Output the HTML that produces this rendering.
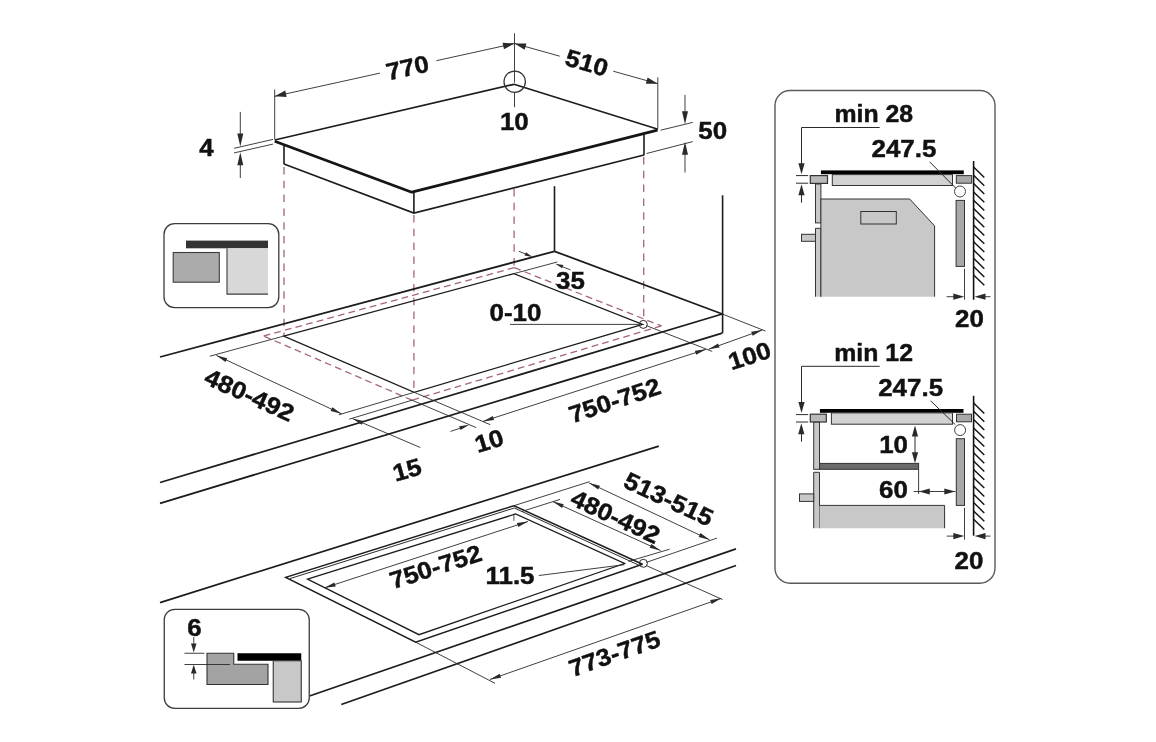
<!DOCTYPE html>
<html><head><meta charset="utf-8"><title>Hob installation</title>
<style>
html,body{margin:0;padding:0;background:#fff;}
body{width:1156px;height:742px;overflow:hidden;}
svg{display:block;will-change:transform;}
text{font-family:"Liberation Sans",sans-serif;font-weight:bold;fill:#111;stroke:#111;stroke-width:0.45px;}
</style></head><body>
<svg width="1156" height="742" viewBox="0 0 1156 742" stroke-linecap="butt">
<rect width="1156" height="742" fill="#fff"/>
<path d="M274.7 140 L514 84.3 L658 129.2" fill="none" stroke="#1c1c1c" stroke-width="1.7" stroke-linejoin="round"/>
<path d="M657.5 130.2 L411.8 192.2 L274.7 141.2" fill="none" stroke="#151515" stroke-width="2.8" stroke-linejoin="bevel"/>
<line x1="284" y1="144" x2="284" y2="164.2" stroke="#1c1c1c" stroke-width="1.6"/>
<line x1="413.9" y1="192.5" x2="413.9" y2="213.1" stroke="#1c1c1c" stroke-width="1.6"/>
<line x1="644" y1="132.5" x2="644" y2="155.2" stroke="#1c1c1c" stroke-width="1.6"/>
<path d="M284 164 L413.9 213.1 L644 155" fill="none" stroke="#1c1c1c" stroke-width="1.6" stroke-linejoin="miter"/>
<line x1="274.7" y1="89.5" x2="274.7" y2="139.5" stroke="#2a2a2a" stroke-width="0.9"/>
<line x1="274.7" y1="96.3" x2="380" y2="73.11" stroke="#2a2a2a" stroke-width="0.9"/>
<line x1="436.4" y1="60.7" x2="514.5" y2="43.5" stroke="#2a2a2a" stroke-width="0.9"/>
<path d="M274.7 96.3 L285.22 90.6 L286.64 97.05 Z" fill="#2a2a2a"/>
<path d="M514.5 43.5 L503.98 49.2 L502.56 42.75 Z" fill="#2a2a2a"/>
<line x1="514.5" y1="33.3" x2="514.5" y2="82.6" stroke="#2a2a2a" stroke-width="0.9"/>
<line x1="514.5" y1="92.4" x2="514.5" y2="107.2" stroke="#2a2a2a" stroke-width="0.9"/>
<circle cx="514.7" cy="81.7" r="10.7" fill="none" stroke="#333" stroke-width="1.25"/>
<line x1="514.5" y1="43.5" x2="559.7" y2="56.18" stroke="#2a2a2a" stroke-width="0.9"/>
<line x1="613.2" y1="71.19" x2="657.8" y2="83.7" stroke="#2a2a2a" stroke-width="0.9"/>
<path d="M514.5 43.5 L526.46 43.43 L524.68 49.78 Z" fill="#2a2a2a"/>
<path d="M657.8 83.7 L645.84 83.77 L647.62 77.42 Z" fill="#2a2a2a"/>
<line x1="657.8" y1="77.3" x2="657.8" y2="128.5" stroke="#2a2a2a" stroke-width="0.9"/>
<line x1="240.3" y1="111.9" x2="240.3" y2="140" stroke="#2a2a2a" stroke-width="0.9"/>
<path d="M240.3 146.6 L237.3 133.6 L243.3 133.6 Z" fill="#2a2a2a"/>
<line x1="240.3" y1="158" x2="240.3" y2="178" stroke="#2a2a2a" stroke-width="0.9"/>
<path d="M240.3 152.2 L243.3 165.2 L237.3 165.2 Z" fill="#2a2a2a"/>
<line x1="234.1" y1="148.3" x2="273" y2="139.4" stroke="#2a2a2a" stroke-width="0.9"/>
<line x1="234.1" y1="152.9" x2="273" y2="144.1" stroke="#2a2a2a" stroke-width="0.9"/>
<line x1="685" y1="94.9" x2="685" y2="118" stroke="#2a2a2a" stroke-width="0.9"/>
<path d="M685 124.2 L682 111.2 L688 111.2 Z" fill="#2a2a2a"/>
<line x1="685" y1="148" x2="685" y2="172.5" stroke="#2a2a2a" stroke-width="0.9"/>
<path d="M685 141.8 L688 154.8 L682 154.8 Z" fill="#2a2a2a"/>
<line x1="660.6" y1="130.2" x2="692.8" y2="122.4" stroke="#2a2a2a" stroke-width="0.9"/>
<line x1="646.5" y1="153.5" x2="692.8" y2="141.6" stroke="#2a2a2a" stroke-width="0.9"/>
<line x1="284" y1="167" x2="284" y2="336" stroke="#a66672" stroke-width="1.3" stroke-dasharray="7.5 6.3"/>
<line x1="413.9" y1="215" x2="413.9" y2="392" stroke="#a66672" stroke-width="1.3" stroke-dasharray="7.5 6.3"/>
<line x1="514.1" y1="189" x2="514.1" y2="268" stroke="#a66672" stroke-width="1.3" stroke-dasharray="7.5 6.3"/>
<line x1="643.7" y1="157" x2="643.7" y2="320" stroke="#a66672" stroke-width="1.3" stroke-dasharray="7.5 6.3"/>
<line x1="554.5" y1="186.2" x2="554.5" y2="251.3" stroke="#1c1c1c" stroke-width="1.6"/>
<line x1="722.6" y1="195.3" x2="722.6" y2="333.2" stroke="#1c1c1c" stroke-width="1.6"/>
<line x1="160" y1="357" x2="554.5" y2="251.3" stroke="#1c1c1c" stroke-width="1.8"/>
<line x1="554.5" y1="251.3" x2="722.3" y2="314" stroke="#1c1c1c" stroke-width="1.8"/>
<line x1="722.3" y1="314" x2="160" y2="482.5" stroke="#1c1c1c" stroke-width="1.8"/>
<line x1="722.3" y1="333.1" x2="160" y2="503.3" stroke="#1c1c1c" stroke-width="1.8"/>
<path d="M283.7 336.1 L513.9 273.6 L642.6 324.4 L414.2 392.3 Z" fill="none" stroke="#1c1c1c" stroke-width="1.3" stroke-linejoin="miter"/>
<line x1="263.6" y1="336" x2="514.3" y2="267.7" stroke="#a66672" stroke-width="1.3" stroke-dasharray="6.8 4.2"/>
<line x1="514.3" y1="267.7" x2="661.4" y2="325.9" stroke="#a66672" stroke-width="1.3" stroke-dasharray="6.8 4.2"/>
<line x1="661.4" y1="325.9" x2="412" y2="400.2" stroke="#a66672" stroke-width="1.3" stroke-dasharray="6.8 4.2"/>
<line x1="412" y1="400.2" x2="263.6" y2="336" stroke="#a66672" stroke-width="1.3" stroke-dasharray="6.8 4.2"/>
<line x1="283.7" y1="336.1" x2="209.8" y2="356.2" stroke="#2a2a2a" stroke-width="0.9"/>
<line x1="513.9" y1="273.6" x2="557.3" y2="262" stroke="#2a2a2a" stroke-width="0.9"/>
<line x1="414.2" y1="392.3" x2="338.8" y2="414.8" stroke="#2a2a2a" stroke-width="0.9"/>
<line x1="414.2" y1="392.3" x2="490.3" y2="424.7" stroke="#2a2a2a" stroke-width="0.9"/>
<line x1="646.5" y1="325.7" x2="712.2" y2="351.4" stroke="#2a2a2a" stroke-width="0.9"/>
<line x1="412" y1="400.2" x2="349.2" y2="419.2" stroke="#2a2a2a" stroke-width="0.9"/>
<line x1="412" y1="400.2" x2="476.2" y2="427.6" stroke="#2a2a2a" stroke-width="0.9"/>
<line x1="722.3" y1="314" x2="765.6" y2="331.1" stroke="#2a2a2a" stroke-width="0.9"/>
<circle cx="643.3" cy="324.4" r="4" fill="none" stroke="#2a2a2a" stroke-width="1.0"/>
<line x1="510" y1="324.4" x2="639.3" y2="324.4" stroke="#2a2a2a" stroke-width="0.9"/>
<line x1="519" y1="251.3" x2="526" y2="254.3" stroke="#2a2a2a" stroke-width="0.9"/>
<path d="M532.6 257.1 L524.54 255.62 L525.95 252.31 Z" fill="#2a2a2a"/>
<line x1="570.5" y1="269.8" x2="562" y2="266.7" stroke="#2a2a2a" stroke-width="0.9"/>
<path d="M555.3 263.7 L563.39 265.01 L562.05 268.35 Z" fill="#2a2a2a"/>
<line x1="216.4" y1="355.4" x2="341.5" y2="413.8" stroke="#2a2a2a" stroke-width="0.9"/>
<path d="M216.4 355.4 L227.26 358.15 L225.48 361.96 Z" fill="#2a2a2a"/>
<path d="M341.5 413.8 L330.64 411.05 L332.42 407.24 Z" fill="#2a2a2a"/>
<line x1="352.5" y1="418.6" x2="420.3" y2="447.5" stroke="#2a2a2a" stroke-width="0.9"/>
<path d="M352.5 418.6 L363.44 420.98 L361.8 424.85 Z" fill="#2a2a2a"/>
<line x1="450.5" y1="431.4" x2="462" y2="427.6" stroke="#2a2a2a" stroke-width="0.9"/>
<path d="M469.3 424.8 L460.53 430 L459.2 426.23 Z" fill="#2a2a2a"/>
<line x1="483" y1="421.4" x2="706" y2="349.3" stroke="#2a2a2a" stroke-width="0.9"/>
<path d="M483 421.4 L492.82 416.02 L494.11 420.01 Z" fill="#2a2a2a"/>
<path d="M706 349.3 L696.18 354.68 L694.89 350.69 Z" fill="#2a2a2a"/>
<line x1="708.5" y1="349.3" x2="762.3" y2="330" stroke="#2a2a2a" stroke-width="0.9"/>
<path d="M708.5 349.3 L718.14 343.61 L719.56 347.56 Z" fill="#2a2a2a"/>
<path d="M762.3 330 L752.66 335.69 L751.24 331.74 Z" fill="#2a2a2a"/>
<text x="0" y="8.59" font-size="24" text-anchor="middle" transform="translate(407.4 67.4) rotate(-12.6) scale(1.08 1)">770</text>
<text x="0" y="8.59" font-size="24" text-anchor="middle" transform="translate(587 62.4) rotate(16) scale(1.08 1)">510</text>
<text x="0" y="8.59" font-size="24" text-anchor="middle" transform="translate(514.3 121) rotate(0) scale(1.08 1)">10</text>
<text x="0" y="8.59" font-size="24" text-anchor="middle" transform="translate(206.5 147.5) rotate(0) scale(1.08 1)">4</text>
<text x="0" y="8.59" font-size="24" text-anchor="middle" transform="translate(712.7 130.7) rotate(0) scale(1.08 1)">50</text>
<text x="0" y="8.59" font-size="24" text-anchor="middle" transform="translate(570.5 280.5) rotate(0) scale(1.08 1)">35</text>
<text x="0" y="8.59" font-size="24" text-anchor="middle" transform="translate(515.4 312.5) rotate(0) scale(1.08 1)">0-10</text>
<text x="0" y="8.59" font-size="24" text-anchor="middle" transform="translate(249.6 394.7) rotate(24.2) scale(1.08 1)">480-492</text>
<text x="0" y="8.59" font-size="24" text-anchor="middle" transform="translate(614.5 400.2) rotate(-18.5) scale(1.08 1)">750-752</text>
<text x="0" y="8.59" font-size="24" text-anchor="middle" transform="translate(749.5 355.5) rotate(-18) scale(1.08 1)">100</text>
<text x="0" y="8.59" font-size="24" text-anchor="middle" transform="translate(489 440.5) rotate(-17) scale(1.08 1)">10</text>
<text x="0" y="8.59" font-size="24" text-anchor="middle" transform="translate(407 469.4) rotate(-16) scale(1.08 1)">15</text>
<rect x="164" y="223.6" width="114.8" height="84" rx="10.6" fill="none" stroke="#3c3c3c" stroke-width="1.3"/>
<rect x="186" y="240.6" width="82" height="7.7" fill="#333333" stroke="none" stroke-width="0"/>
<rect x="173.2" y="252.5" width="46.1" height="29.7" fill="#ababab" stroke="#3c3c3c" stroke-width="1.1"/>
<rect x="227" y="248.3" width="41" height="45.8" fill="#d8d8d8" stroke="none" stroke-width="0"/>
<path d="M227 248.3 L227 294.1 L268 294.1" fill="none" stroke="#3c3c3c" stroke-width="1.1" stroke-linejoin="miter"/>
<line x1="160" y1="602.6" x2="658.8" y2="446.1" stroke="#1c1c1c" stroke-width="1.7"/>
<line x1="309.5" y1="696" x2="736" y2="548.9" stroke="#1c1c1c" stroke-width="1.7"/>
<line x1="341.25" y1="704.5" x2="736" y2="565.5" stroke="#1c1c1c" stroke-width="1.7"/>
<path d="M513.9 505.7 L285.7 577.4 L415.7 642.2 L642.5 564.2" fill="none" stroke="#1c1c1c" stroke-width="1.5" stroke-linejoin="miter"/>
<line x1="513.9" y1="505.7" x2="642.5" y2="564.2" stroke="#1c1c1c" stroke-width="1.5"/>
<path d="M290 578.6 L514.3 508 L638.5 565" fill="none" stroke="#2a2a2a" stroke-width="1.0" stroke-linejoin="miter"/>
<path d="M307.5 579.2 L515.6 514 L624.5 563.5 L419 634.7 Z" fill="none" stroke="#1c1c1c" stroke-width="1.3" stroke-linejoin="miter"/>
<line x1="513.9" y1="505.7" x2="589.5" y2="481.7" stroke="#2a2a2a" stroke-width="0.9"/>
<line x1="522" y1="511.4" x2="560" y2="499.4" stroke="#2a2a2a" stroke-width="0.9"/>
<line x1="646.5" y1="562.3" x2="717" y2="538.1" stroke="#2a2a2a" stroke-width="0.9"/>
<line x1="646.8" y1="565.8" x2="722.5" y2="599.5" stroke="#2a2a2a" stroke-width="0.9"/>
<line x1="415.7" y1="642.2" x2="495" y2="683.3" stroke="#2a2a2a" stroke-width="0.9"/>
<line x1="628.5" y1="561.4" x2="669.6" y2="549.2" stroke="#2a2a2a" stroke-width="0.9"/>
<circle cx="643.4" cy="563.3" r="4" fill="none" stroke="#2a2a2a" stroke-width="1.0"/>
<line x1="538.8" y1="575.5" x2="624.4" y2="564.7" stroke="#2a2a2a" stroke-width="0.9"/>
<line x1="513.9" y1="513.8" x2="513.9" y2="520.8" stroke="#2a2a2a" stroke-width="0.8"/>
<line x1="589.1" y1="482.9" x2="709.5" y2="539.7" stroke="#2a2a2a" stroke-width="0.9"/>
<path d="M589.1 482.9 L599.94 485.69 L598.15 489.49 Z" fill="#2a2a2a"/>
<path d="M709.5 539.7 L698.66 536.91 L700.45 533.11 Z" fill="#2a2a2a"/>
<line x1="552.9" y1="501.6" x2="660.5" y2="550.5" stroke="#2a2a2a" stroke-width="0.9"/>
<path d="M552.9 501.6 L563.78 504.24 L562.05 508.06 Z" fill="#2a2a2a"/>
<path d="M660.5 550.5 L649.62 547.86 L651.35 544.04 Z" fill="#2a2a2a"/>
<line x1="324.6" y1="587.8" x2="528" y2="521.5" stroke="#2a2a2a" stroke-width="0.9"/>
<path d="M324.6 587.8 L334.41 582.39 L335.71 586.39 Z" fill="#2a2a2a"/>
<path d="M528 521.5 L518.19 526.91 L516.89 522.91 Z" fill="#2a2a2a"/>
<line x1="490" y1="679.5" x2="721.3" y2="598.3" stroke="#2a2a2a" stroke-width="0.9"/>
<path d="M490 679.5 L499.68 673.87 L501.07 677.84 Z" fill="#2a2a2a"/>
<path d="M721.3 598.3 L711.62 603.93 L710.23 599.96 Z" fill="#2a2a2a"/>
<text x="0" y="8.59" font-size="24" text-anchor="middle" transform="translate(668.8 498.9) rotate(25) scale(1.08 1)">513-515</text>
<text x="0" y="8.59" font-size="24" text-anchor="middle" transform="translate(615.6 516.4) rotate(25) scale(1.08 1)">480-492</text>
<text x="0" y="8.59" font-size="24" text-anchor="middle" transform="translate(435.5 566.5) rotate(-18) scale(1.08 1)">750-752</text>
<text x="0" y="8.59" font-size="24" text-anchor="middle" transform="translate(510 575) rotate(0) scale(1.08 1)">11.5</text>
<text x="0" y="8.59" font-size="24" text-anchor="middle" transform="translate(614.4 653.3) rotate(-19.3) scale(1.08 1)">773-775</text>
<rect x="164.25" y="609.3" width="145" height="99" rx="10.5" fill="#ffffff" stroke="#3c3c3c" stroke-width="1.3"/>
<text x="0" y="8.59" font-size="24" text-anchor="middle" transform="translate(194.4 627) rotate(0) scale(1.08 1)">6</text>
<line x1="193.75" y1="637" x2="193.75" y2="646" stroke="#2a2a2a" stroke-width="0.9"/>
<path d="M193.75 652.6 L191 643.6 L196.5 643.6 Z" fill="#2a2a2a"/>
<line x1="193.75" y1="671" x2="193.75" y2="679.5" stroke="#2a2a2a" stroke-width="0.9"/>
<path d="M193.75 664.5 L196.5 673.5 L191 673.5 Z" fill="#2a2a2a"/>
<line x1="184.5" y1="653.25" x2="204.3" y2="653.25" stroke="#2a2a2a" stroke-width="0.9"/>
<line x1="184.5" y1="664.5" x2="230" y2="664.5" stroke="#2a2a2a" stroke-width="0.9"/>
<path d="M207 653.25 L233.75 653.25 L233.75 664.2 L268 664.2 L268 684.5 L207 684.5 Z" fill="#a3a3a3" stroke="#333" stroke-width="1.1" stroke-linejoin="miter"/>
<line x1="207" y1="664.5" x2="230" y2="664.5" stroke="#2a2a2a" stroke-width="0.9"/>
<rect x="237.5" y="653.25" width="63.75" height="7.5" fill="#000000" stroke="none" stroke-width="0"/>
<rect x="273.25" y="660.75" width="28" height="41.25" fill="#c8c8c8" stroke="#333" stroke-width="1.1"/>
<rect x="775" y="90.5" width="220" height="492.7" rx="15" fill="none" stroke="#5a5a5a" stroke-width="1.4"/>
<text x="0" y="0" font-size="24" transform="translate(834.5 122.4) scale(1.035 1)">min 28</text>
<line x1="801.5" y1="127.5" x2="879.7" y2="127.5" stroke="#2a2a2a" stroke-width="1.0"/>
<line x1="801.5" y1="127.5" x2="801.5" y2="168" stroke="#2a2a2a" stroke-width="1.0"/>
<path d="M801.5 174.3 L798.4 163.3 L804.6 163.3 Z" fill="#2a2a2a"/>
<line x1="796" y1="175.6" x2="808.2" y2="175.6" stroke="#2a2a2a" stroke-width="1.0"/>
<line x1="796" y1="183.2" x2="808.2" y2="183.2" stroke="#2a2a2a" stroke-width="1.0"/>
<path d="M801.5 184.2 L804.6 195.2 L798.4 195.2 Z" fill="#2a2a2a"/>
<line x1="801.5" y1="188" x2="801.5" y2="202.7" stroke="#2a2a2a" stroke-width="1.0"/>
<text x="0" y="0" font-size="24" transform="translate(871.5 157.2) scale(1.08 1)">247.5</text>
<rect x="820.9" y="170.4" width="142.9" height="3.8" fill="#000" stroke="none" stroke-width="0"/>
<rect x="810.3" y="175.6" width="17.2" height="7.8" fill="#bababa" stroke="#333" stroke-width="1.2"/>
<rect x="832.3" y="174.6" width="120.2" height="10.9" fill="#d2d2d2" stroke="#333" stroke-width="1.0"/>
<rect x="956.3" y="175.6" width="15.4" height="7.6" fill="#a8a8a8" stroke="#333" stroke-width="1.0"/>
<circle cx="960" cy="191.5" r="5.5" fill="none" stroke="#444" stroke-width="1.0"/>
<line x1="929.6" y1="161.8" x2="955.8" y2="188.2" stroke="#2a2a2a" stroke-width="1.0"/>
<line x1="973.6" y1="161" x2="973.6" y2="299.7" stroke="#111" stroke-width="1.6"/>
<line x1="973.6" y1="167" x2="984.3" y2="177.4" stroke="#111" stroke-width="1.4"/>
<line x1="973.6" y1="175.3" x2="984.3" y2="185.7" stroke="#111" stroke-width="1.4"/>
<line x1="973.6" y1="183.6" x2="984.3" y2="194" stroke="#111" stroke-width="1.4"/>
<line x1="973.6" y1="191.9" x2="984.3" y2="202.3" stroke="#111" stroke-width="1.4"/>
<line x1="973.6" y1="200.2" x2="984.3" y2="210.6" stroke="#111" stroke-width="1.4"/>
<line x1="973.6" y1="208.5" x2="984.3" y2="218.9" stroke="#111" stroke-width="1.4"/>
<line x1="973.6" y1="216.8" x2="984.3" y2="227.2" stroke="#111" stroke-width="1.4"/>
<line x1="973.6" y1="225.1" x2="984.3" y2="235.5" stroke="#111" stroke-width="1.4"/>
<line x1="973.6" y1="233.4" x2="984.3" y2="243.8" stroke="#111" stroke-width="1.4"/>
<line x1="973.6" y1="241.7" x2="984.3" y2="252.1" stroke="#111" stroke-width="1.4"/>
<line x1="973.6" y1="250" x2="984.3" y2="260.4" stroke="#111" stroke-width="1.4"/>
<line x1="973.6" y1="258.3" x2="984.3" y2="268.7" stroke="#111" stroke-width="1.4"/>
<line x1="973.6" y1="266.6" x2="984.3" y2="277" stroke="#111" stroke-width="1.4"/>
<line x1="973.6" y1="274.9" x2="984.3" y2="285.3" stroke="#111" stroke-width="1.4"/>
<rect x="815.5" y="184" width="5.4" height="38.9" fill="#c8c8c8" stroke="#333" stroke-width="1.0"/>
<path d="M815.5 296.7 L815.5 228.3 L820.9 228.3 L820.9 296.7" fill="#c8c8c8" stroke="#333" stroke-width="1.0" stroke-linejoin="miter"/>
<rect x="801.5" y="234.3" width="14" height="7" fill="#c8c8c8" stroke="#333" stroke-width="1.0"/>
<path d="M820.9 296.7 L820.9 199 L909.7 199 L934.6 225.9 L934.6 296.7" fill="#c8c8c8" stroke="#333" stroke-width="1.0" stroke-linejoin="miter"/>
<rect x="860.8" y="211.5" width="35.5" height="12.5" fill="#c8c8c8" stroke="#333" stroke-width="1.0"/>
<rect x="956.1" y="200.4" width="8.4" height="66" fill="#a8a8a8" stroke="#333" stroke-width="1.0"/>
<line x1="964.5" y1="268.8" x2="964.5" y2="299.7" stroke="#2a2a2a" stroke-width="0.9"/>
<line x1="946.6" y1="296.7" x2="958" y2="296.7" stroke="#2a2a2a" stroke-width="0.9"/>
<path d="M964.3 296.7 L953.3 299.8 L953.3 293.6 Z" fill="#2a2a2a"/>
<line x1="990.5" y1="296.7" x2="981" y2="296.7" stroke="#2a2a2a" stroke-width="0.9"/>
<path d="M974.5 296.7 L985.5 293.6 L985.5 299.8 Z" fill="#2a2a2a"/>
<text x="0" y="0" font-size="24" transform="translate(955 326.6) scale(1.08 1)">20</text>
<text x="0" y="0" font-size="24" transform="translate(834.3 361.3) scale(1.035 1)">min 12</text>
<line x1="801.5" y1="366.3" x2="879.7" y2="366.3" stroke="#2a2a2a" stroke-width="1.0"/>
<line x1="801.5" y1="366.3" x2="801.5" y2="407" stroke="#2a2a2a" stroke-width="1.0"/>
<path d="M801.5 412.9 L798.4 401.9 L804.6 401.9 Z" fill="#2a2a2a"/>
<line x1="796" y1="414.6" x2="808.2" y2="414.6" stroke="#2a2a2a" stroke-width="1.0"/>
<line x1="796" y1="422" x2="808.2" y2="422" stroke="#2a2a2a" stroke-width="1.0"/>
<path d="M801.3 423.2 L804.4 434.2 L798.2 434.2 Z" fill="#2a2a2a"/>
<line x1="801.5" y1="428" x2="801.5" y2="441.7" stroke="#2a2a2a" stroke-width="1.0"/>
<text x="0" y="0" font-size="24" transform="translate(878.2 395.8) scale(1.08 1)">247.5</text>
<rect x="819.9" y="409" width="143.6" height="3.8" fill="#000" stroke="none" stroke-width="0"/>
<rect x="810.3" y="414.2" width="16" height="7.8" fill="#bababa" stroke="#333" stroke-width="1.2"/>
<rect x="831.4" y="412.9" width="121.1" height="11.3" fill="#d2d2d2" stroke="#333" stroke-width="1.0"/>
<rect x="956.5" y="414.2" width="15" height="7.6" fill="#a8a8a8" stroke="#333" stroke-width="1.0"/>
<circle cx="960.1" cy="430.1" r="5.5" fill="none" stroke="#444" stroke-width="1.0"/>
<line x1="930.6" y1="400.8" x2="955.3" y2="424.6" stroke="#2a2a2a" stroke-width="1.0"/>
<line x1="973.6" y1="395.8" x2="973.6" y2="535.7" stroke="#111" stroke-width="1.6"/>
<line x1="973.6" y1="403" x2="984.3" y2="413.4" stroke="#111" stroke-width="1.4"/>
<line x1="973.6" y1="411.3" x2="984.3" y2="421.7" stroke="#111" stroke-width="1.4"/>
<line x1="973.6" y1="419.6" x2="984.3" y2="430" stroke="#111" stroke-width="1.4"/>
<line x1="973.6" y1="427.9" x2="984.3" y2="438.3" stroke="#111" stroke-width="1.4"/>
<line x1="973.6" y1="436.2" x2="984.3" y2="446.6" stroke="#111" stroke-width="1.4"/>
<line x1="973.6" y1="444.5" x2="984.3" y2="454.9" stroke="#111" stroke-width="1.4"/>
<line x1="973.6" y1="452.8" x2="984.3" y2="463.2" stroke="#111" stroke-width="1.4"/>
<line x1="973.6" y1="461.1" x2="984.3" y2="471.5" stroke="#111" stroke-width="1.4"/>
<line x1="973.6" y1="469.4" x2="984.3" y2="479.8" stroke="#111" stroke-width="1.4"/>
<line x1="973.6" y1="477.7" x2="984.3" y2="488.1" stroke="#111" stroke-width="1.4"/>
<line x1="973.6" y1="486" x2="984.3" y2="496.4" stroke="#111" stroke-width="1.4"/>
<line x1="973.6" y1="494.3" x2="984.3" y2="504.7" stroke="#111" stroke-width="1.4"/>
<line x1="973.6" y1="502.6" x2="984.3" y2="513" stroke="#111" stroke-width="1.4"/>
<line x1="973.6" y1="510.9" x2="984.3" y2="521.3" stroke="#111" stroke-width="1.4"/>
<line x1="973.6" y1="519.2" x2="984.3" y2="529.6" stroke="#111" stroke-width="1.4"/>
<text x="0" y="0" font-size="24" transform="translate(879.2 452.7) scale(1.08 1)">10</text>
<line x1="915" y1="431" x2="915" y2="457" stroke="#2a2a2a" stroke-width="1.0"/>
<path d="M915 425.4 L918.1 436.4 L911.9 436.4 Z" fill="#2a2a2a"/>
<path d="M915 463.2 L911.9 452.2 L918.1 452.2 Z" fill="#2a2a2a"/>
<rect x="819.5" y="463.4" width="99.1" height="5.9" fill="#6a6a6a" stroke="#333" stroke-width="1.0"/>
<rect x="813.7" y="422.2" width="5.8" height="47.1" fill="#c8c8c8" stroke="#333" stroke-width="1.0"/>
<path d="M813.7 528.2 L813.7 472.3 L819.5 472.3 L819.5 528.2" fill="#c8c8c8" stroke="#333" stroke-width="1.0" stroke-linejoin="miter"/>
<rect x="799.5" y="493.9" width="14.2" height="7.5" fill="#c8c8c8" stroke="#333" stroke-width="1.0"/>
<line x1="918.6" y1="469.5" x2="918.6" y2="494" stroke="#2a2a2a" stroke-width="0.9"/>
<text x="0" y="0" font-size="24" transform="translate(879 497.9) scale(1.08 1)">60</text>
<line x1="913.6" y1="491.5" x2="955.5" y2="491.5" stroke="#2a2a2a" stroke-width="0.9"/>
<path d="M918.8 491.5 L929.8 488.4 L929.8 494.6 Z" fill="#2a2a2a"/>
<path d="M955.3 491.5 L944.3 494.6 L944.3 488.4 Z" fill="#2a2a2a"/>
<path d="M819.5 505.4 L944.6 505.4 L944.6 528.2 L819.5 528.2 Z" fill="#c8c8c8" stroke="none" stroke-width="0" stroke-linejoin="miter"/>
<path d="M819.5 505.4 L944.6 505.4 L944.6 528.2" fill="none" stroke="#333" stroke-width="1.0" stroke-linejoin="miter"/>
<rect x="956.3" y="438.7" width="8.2" height="66.7" fill="#a8a8a8" stroke="#333" stroke-width="1.0"/>
<line x1="964.5" y1="507.8" x2="964.5" y2="539.7" stroke="#2a2a2a" stroke-width="0.9"/>
<line x1="946.6" y1="536.1" x2="958" y2="536.1" stroke="#2a2a2a" stroke-width="0.9"/>
<path d="M964.3 536.1 L953.3 539.2 L953.3 533 Z" fill="#2a2a2a"/>
<line x1="990.5" y1="536.1" x2="981" y2="536.1" stroke="#2a2a2a" stroke-width="0.9"/>
<path d="M974.5 536.1 L985.5 533 L985.5 539.2 Z" fill="#2a2a2a"/>
<text x="0" y="0" font-size="24" transform="translate(954.5 568.7) scale(1.08 1)">20</text>
</svg>
</body></html>
